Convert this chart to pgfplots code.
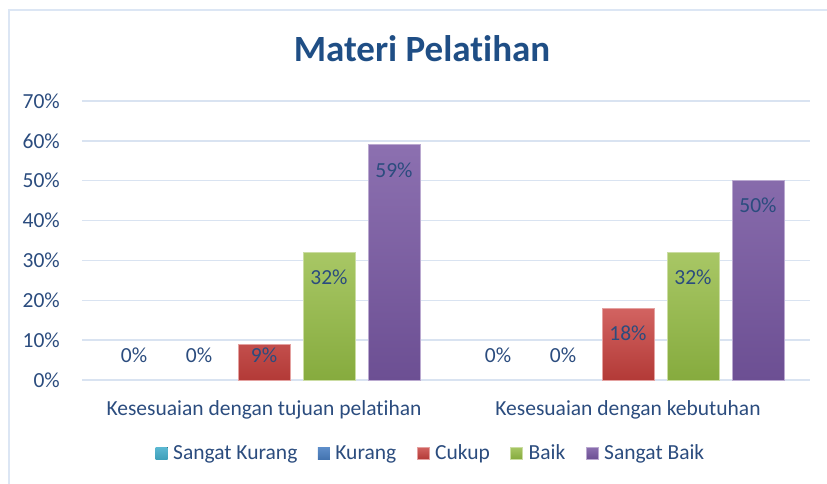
\documentclass[border=0pt]{standalone}
\usepackage{pgfplots}
\pgfplotsset{compat=1.18}
\usepackage{fontspec}
\setmainfont{Carlito}[Ligatures={NoCommon}, RawFeature={-liga;-clig;-calt}]
\definecolor{txt}{HTML}{2B4C7E}
\definecolor{ttl}{HTML}{1F4E85}
\definecolor{grd}{HTML}{D9E3F1}
\definecolor{frm}{HTML}{DCE6F4}
\definecolor{cyanT}{HTML}{5BB8D2}\definecolor{cyanB}{HTML}{3FA0BA}
\definecolor{blueT}{HTML}{5E8ECA}\definecolor{blueB}{HTML}{4474B0}
\definecolor{redT}{HTML}{D26361}\definecolor{redB}{HTML}{B33A37}
\definecolor{greenT}{HTML}{A8C765}\definecolor{greenB}{HTML}{86AB3E}
\definecolor{purpT}{HTML}{8C70B0}\definecolor{purpB}{HTML}{6C4F93}
\begin{document}
\begin{tikzpicture}
\path[use as bounding box] (-82pt,-104pt) rectangle (745pt,380pt);
\draw[frm, line width=1.5pt] (-73pt,-104pt) -- (-73pt,370pt) -- (745pt,370pt);
\node[anchor=base, font=\fontsize{37}{40}\selectfont\bfseries, text=ttl] at (340pt,318pt) {Materi Pelat\kern0pt{}ihan};
\begin{axis}[
  at={(0pt,0pt)}, anchor=south west,
  scale only axis, width=728pt, height=279pt,
  ybar=13pt, bar width=52pt,
  xmin=-0.5, xmax=1.5, ymin=0, ymax=70,
  xtick={0,1},
  xticklabels={Kesesuaian dengan tujuan pelatihan, Kesesuaian dengan kebutuhan},
  ytick={0,10,...,70},
  yticklabels={0\%,10\%,20\%,30\%,40\%,50\%,60\%,70\%},
  axis line style={draw=none},
  major tick length=0pt,
  ymajorgrids, grid style={grd, line width=1.4pt},
  tick label style={font=\fontsize{21.5}{24}\selectfont, text=txt},
  yticklabel style={anchor=east, inner sep=0pt, xshift=-22pt},
  xticklabel style={anchor=base, inner sep=0pt, yshift=-35pt},
  clip=false,
  /pgf/number format/assume math mode=true,
  nodes near coords={\pgfmathprintnumber{\pgfplotspointmeta}\%},
  visualization depends on={rawy \as \yval},
  every node near coord/.append style={font=\fontsize{21.5}{24}\selectfont, text=txt, anchor=center,
     yshift={(max(\yval-6.27,6.27)-\yval)*3.9857pt}},
  legend columns=5,
  legend image code/.code={\fill[#1] (0pt,-6pt) rectangle (12pt,6pt); \path (16pt,0pt);},
  legend style={draw=none, fill=none, at={(rel axis cs:0.479,0)}, anchor=center, yshift=-73pt,
     font=\fontsize{21.5}{24}\selectfont, text=txt,
     nodes={inner sep=1.5pt},
     /tikz/every even column/.append style={column sep=19pt}},
]
\addplot[draw=none, top color=cyanT, bottom color=cyanB] coordinates {(0,0) (1,0)};
\addplot[draw=none, top color=blueT, bottom color=blueB] coordinates {(0,0) (1,0)};
\addplot[draw=redT!60!white, line width=0.8pt, top color=redT, bottom color=redB] coordinates {(0,9) (1,18)};
\addplot[draw=greenT!60!white, line width=0.8pt, top color=greenT, bottom color=greenB] coordinates {(0,32) (1,32)};
\addplot[draw=purpT!60!white, line width=0.8pt, top color=purpT, bottom color=purpB] coordinates {(0,59) (1,50)};
\legend{Sangat Kurang, Kurang, Cukup, Baik, Sangat Baik}
\end{axis}
\end{tikzpicture}
\end{document}
